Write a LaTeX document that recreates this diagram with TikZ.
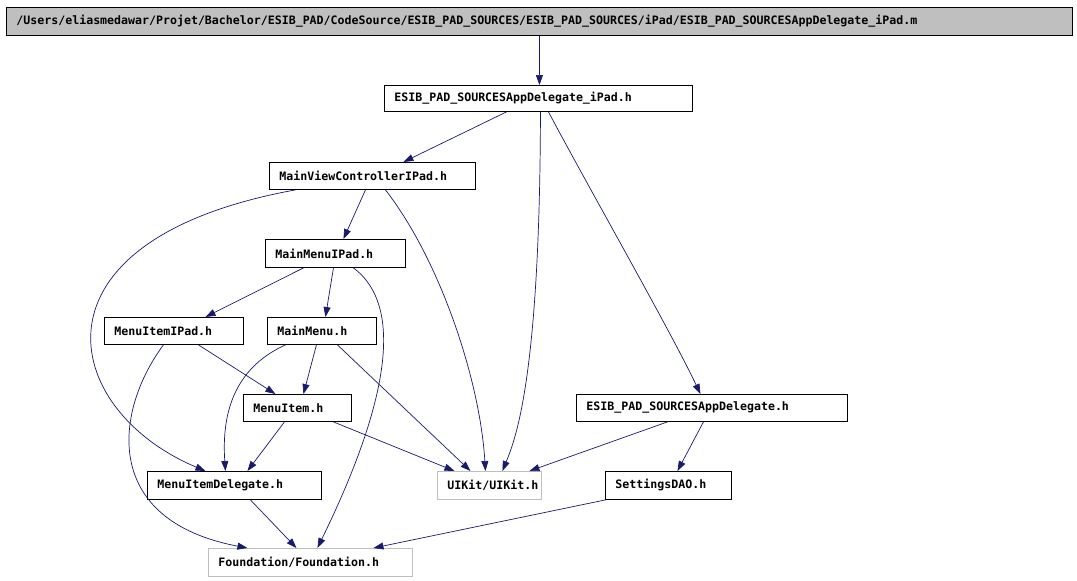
\documentclass[tikz,border=0pt]{standalone}
\usepackage{fontspec}
\newfontfamily\dmono{DejaVu Sans Mono}
\usetikzlibrary{arrows.meta}
\definecolor{edgeblue}{RGB}{25,25,112}
\definecolor{lgray}{RGB}{191,191,191}
\tikzset{
  x=1pt,y=-1pt,
  filebox/.style={draw=black, line width=0.9pt, anchor=north west, inner xsep=10pt, inner ysep=0pt, align=left,
     font=\dmono\bfseries\fontsize{11.6}{13}\selectfont},
  extbox/.style={filebox, draw=lgray},
  dep/.style={draw=edgeblue, line width=0.7pt, -{Triangle[length=10pt,width=7pt]}, edgeblue},
}
\begin{document}
\begin{tikzpicture}
\useasboundingbox (0,0) rectangle (1077,581);
% nodes
\node[filebox, fill=lgray, text width=1046pt, minimum height=28pt] (top) at (6,7) {/Users/eliasmedawar/Projet/Bachelor/ESIB\_PAD/CodeSource/ESIB\_PAD\_SOURCES/ESIB\_PAD\_SOURCES/iPad/ESIB\_PAD\_SOURCESAppDelegate\_iPad.m};
\node[filebox, text width=288pt, minimum height=26pt] (p) at (384,85) {ESIB\_PAD\_SOURCESAppDelegate\_iPad.h};
\node[filebox, text width=186pt, minimum height=27pt] (mvc) at (269,162) {MainViewControllerIPad.h};
\node[filebox, text width=120pt, minimum height=28pt] (mmi) at (265,239) {MainMenuIPad.h};
\node[filebox, text width=119pt, minimum height=27pt] (mii) at (104,317) {MenuItemIPad.h};
\node[filebox, text width=89pt, minimum height=27pt] (mm) at (267,317) {MainMenu.h};
\node[filebox, text width=88pt, minimum height=27pt] (mi) at (243,394) {MenuItem.h};
\node[filebox, text width=154pt, minimum height=28pt] (mid) at (147,471) {MenuItemDelegate.h};
\node[extbox, text width=84pt, minimum height=28pt] (ui) at (437,471) {UIKit/UIKit.h};
\node[extbox, text width=184pt, minimum height=28pt] (fd) at (208,548) {Foundation/Foundation.h};
\node[filebox, text width=251pt, minimum height=27pt] (ad) at (576,394) {ESIB\_PAD\_SOURCESAppDelegate.h};
\node[filebox, text width=106pt, minimum height=28pt] (sd) at (605,471) {SettingsDAO.h};
% edges
\draw[dep] (top.south) -- ([xshift=1pt]p.north);
\draw[dep] ([xshift=-32pt]p.south) -- ([xshift=31pt]mvc.north);
\draw[dep] ([xshift=2pt]p.south) .. controls (540,380) and (515,440) .. ([xshift=13pt]ui.north);
\draw[dep] ([xshift=10pt]p.south) .. controls (590,190) and (670,330) .. ([xshift=-11.5pt]ad.north);
\draw[dep] ([xshift=-77pt]mvc.south) .. controls (20,240) and (60,410) .. ([xshift=-29pt]mid.north);
\draw[dep] ([xshift=-7pt]mvc.south) -- ([xshift=8pt]mmi.north);
\draw[dep] ([xshift=13pt]mvc.south) .. controls (440,260) and (480,380) .. ([xshift=-4pt]ui.north);
\draw[dep] ([xshift=-32pt]mmi.south) -- ([xshift=31.5pt]mii.north);
\draw[dep] ([xshift=-2pt]mmi.south) -- ([xshift=3.5pt]mm.north);
\draw[dep] ([xshift=18pt]mmi.south) .. controls (410,310) and (380,420) .. ([xshift=7pt]fd.north);
\draw[dep] ([xshift=24.5pt]mii.south) -- ([xshift=-22pt]mi.north);
\draw[dep] ([xshift=-10.5pt]mii.south) .. controls (115,410) and (100,520) .. ([xshift=-63pt]fd.north);
\draw[dep] ([xshift=-5.5pt]mm.south) -- ([xshift=6pt]mi.north);
\draw[dep] ([xshift=-36.5pt]mm.south) .. controls (230,370) and (222,420) .. ([xshift=-9pt]mid.north);
\draw[dep] ([xshift=15.5pt]mm.south) -- ([xshift=-19pt]ui.north);
\draw[dep] ([xshift=-13pt]mi.south) -- ([xshift=13pt]mid.north);
\draw[dep] ([xshift=36pt]mi.south) -- ([xshift=-35pt]ui.north);
\draw[dep] ([xshift=16pt]mid.south) -- ([xshift=-14pt]fd.north);
\draw[dep] ([xshift=-44.5pt]ad.south) -- ([xshift=40pt]ui.north);
\draw[dep] ([xshift=-8.5pt]ad.south) -- ([xshift=9pt]sd.north);
\draw[dep] ([xshift=-63pt]sd.south) -- ([xshift=63pt]fd.north);
\end{tikzpicture}
\end{document}
